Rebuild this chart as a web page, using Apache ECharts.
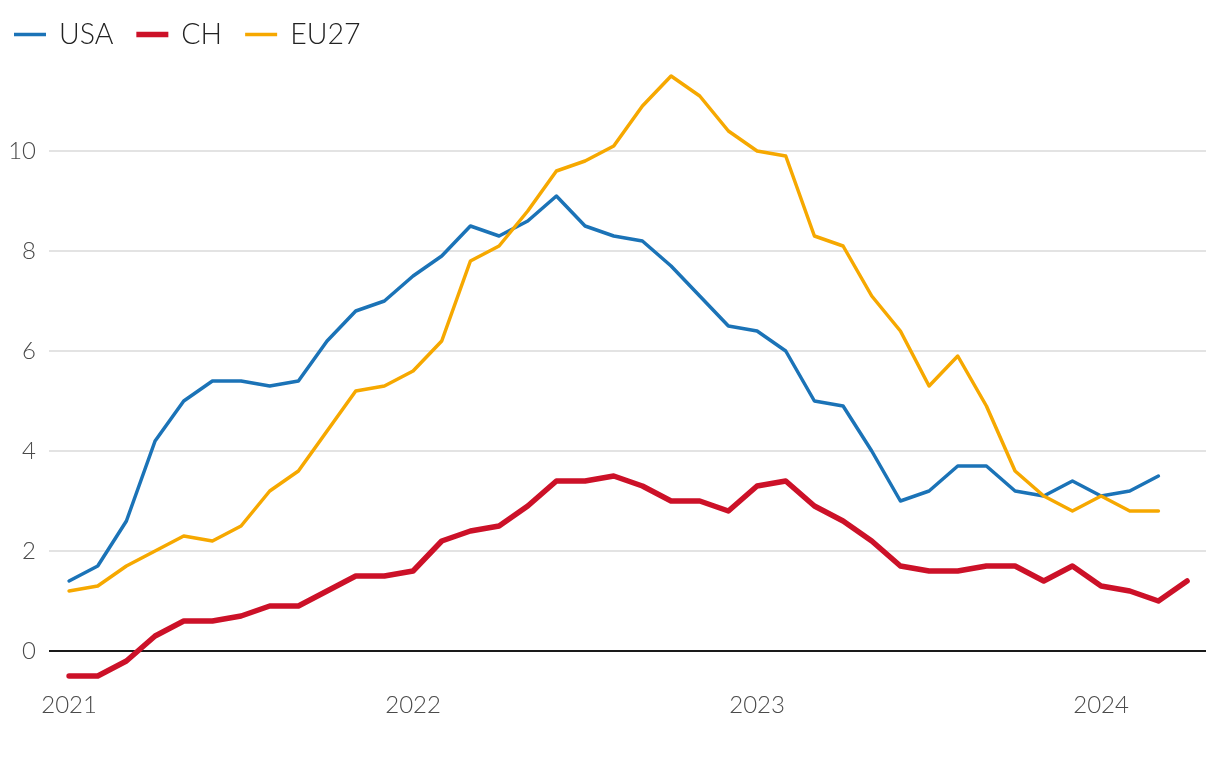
<!DOCTYPE html>
<html>
<head>
<meta charset="utf-8">
<script src="https://cdn.jsdelivr.net/npm/echarts@6/dist/echarts.min.js"></script>
<style>
html,body{margin:0;padding:0;background:#fff;}
#chart{width:1220px;height:766px;}
</style>
</head>
<body>
<div id="chart"></div>
<script>
// Months since Jan 2021 (index 0 = Jan 2021)
const yearTicks = [0, 12, 24, 36];
const yearLabels = ['2021', '2022', '2023', '2024'];
const yTickLabels = ['0', '2', '4', '6', '8', '10'];

const usa = [1.4,1.7,2.6,4.2,5.0,5.4,5.4,5.3,5.4,6.2,6.8,7.0,7.5,7.9,8.5,8.3,8.6,9.1,8.5,8.3,8.2,7.7,7.1,6.5,6.4,6.0,5.0,4.9,4.0,3.0,3.2,3.7,3.7,3.2,3.1,3.4,3.1,3.2,3.5];
const ch = [-0.5,-0.5,-0.2,0.3,0.6,0.6,0.7,0.9,0.9,1.2,1.5,1.5,1.6,2.2,2.4,2.5,2.9,3.4,3.4,3.5,3.3,3.0,3.0,2.8,3.3,3.4,2.9,2.6,2.2,1.7,1.6,1.6,1.7,1.7,1.4,1.7,1.3,1.2,1.0,1.4];
const eu27 = [1.2,1.3,1.7,2.0,2.3,2.2,2.5,3.2,3.6,4.4,5.2,5.3,5.6,6.2,7.8,8.1,8.8,9.6,9.8,10.1,10.9,11.5,11.1,10.4,10.0,9.9,8.3,8.1,7.1,6.4,5.3,5.9,4.9,3.6,3.1,2.8,3.1,2.8,2.8];

const toPairs = arr => arr.map((v, i) => [i, v]);
const FONT = 'Lato, "Noto Sans", sans-serif';
const C_USA = '#1b73b7', C_CH = '#cc1128', C_EU = '#f6a800';

const chart = echarts.init(document.getElementById('chart'), null, {renderer: 'canvas'});
chart.setOption({
  animation: false,
  backgroundColor: '#ffffff',
  textStyle: {fontFamily: FONT},
  legend: {
    left: 9,
    top: 15,
    itemWidth: 32,
    itemHeight: 14,
    itemGap: 23,
    symbolKeepAspect: true,
    textStyle: {fontSize: 28.5, fontWeight: 300, color: '#222', fontFamily: FONT, padding: [0, 0, 0, 8]},
    data: [
      {name: 'USA', icon: 'path://M0 0H32V3.5H0Z', itemStyle: {color: C_USA}},
      {name: 'CH', icon: 'path://M0 0H32V5.5H0Z', itemStyle: {color: C_CH}},
      {name: 'EU27', icon: 'path://M0 0H32V3.5H0Z', itemStyle: {color: C_EU}}
    ]
  },
  grid: {left: 49, right: 14, top: 51, bottom: 15, containLabel: false, outerBoundsMode: 'none'},
  xAxis: {
    type: 'value',
    min: -0.7,
    max: 39.66,
    offset: -100,
    axisLine: {show: false, onZero: false},
    axisTick: {show: false},
    splitLine: {show: false},
    axisLabel: {
      customValues: yearTicks,
      formatter: v => yearLabels[yearTicks.indexOf(v)] || '',
      fontSize: 24, fontWeight: 300, color: '#4a4a4a', margin: 42, fontFamily: FONT
    }
  },
  yAxis: {
    type: 'value',
    min: -2, max: 12, interval: 2,
    axisLine: {show: false},
    axisTick: {show: false},
    axisLabel: {
      formatter: v => (v >= 0 && v <= 10) ? yTickLabels[v / 2] : '',
      fontSize: 24, fontWeight: 300, color: '#4a4a4a', margin: 13, fontFamily: FONT
    },
    splitLine: {
      lineStyle: {
        color: ['transparent', '#1a1a1a', '#e3e3e3', '#e3e3e3', '#e3e3e3', '#e3e3e3', '#e3e3e3', 'transparent'],
        width: 2
      }
    }
  },
  series: [
    {name: 'USA', type: 'line', data: toPairs(usa), symbol: 'none', z: 3,
     lineStyle: {color: C_USA, width: 3.5, cap: 'round', join: 'round'}, itemStyle: {color: C_USA}},
    {name: 'CH', type: 'line', data: toPairs(ch), symbol: 'none', z: 2,
     lineStyle: {color: C_CH, width: 5.5, cap: 'round', join: 'round'}, itemStyle: {color: C_CH}},
    {name: 'EU27', type: 'line', data: toPairs(eu27), symbol: 'none', z: 4,
     lineStyle: {color: C_EU, width: 3.5, cap: 'round', join: 'round'}, itemStyle: {color: C_EU}}
  ]
});
</script>
</body>
</html>
